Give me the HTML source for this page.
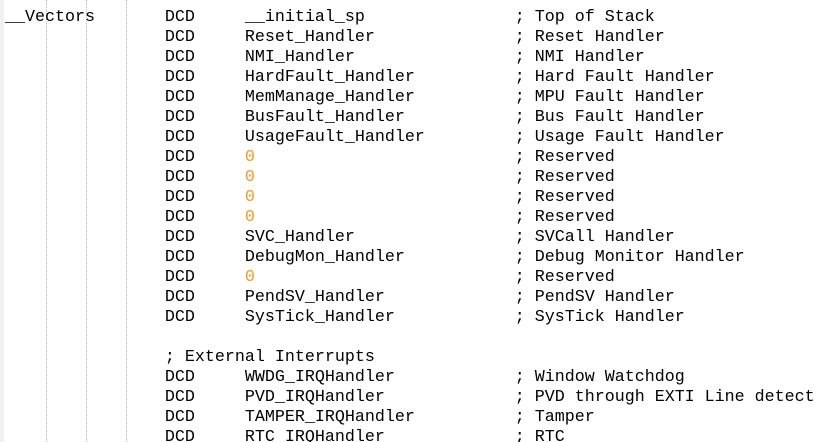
<!DOCTYPE html>
<html><head><meta charset="utf-8"><style>
html,body{margin:0;padding:0;background:#fff;width:834px;height:442px;overflow:hidden;position:relative}
.l{position:absolute;left:5px;font-family:"Liberation Mono","Courier New",monospace;font-size:16.67px;line-height:20px;white-space:pre;color:#000}
.z{color:#f39a30}
.v{position:absolute;top:0;height:442px;width:0;border-left:1px dotted #b8b8b8}
.strip{position:absolute;left:0;top:0;width:4px;height:442px;background:#f0f0f0}
</style></head><body>
<div class="strip"></div>
<div class="v" style="left:46px"></div>
<div class="v" style="left:86px"></div>
<div class="v" style="left:126px"></div>
<div class="l" style="top:8px">__Vectors       DCD     __initial_sp               ; Top of Stack</div>
<div class="l" style="top:28px">                DCD     Reset_Handler              ; Reset Handler</div>
<div class="l" style="top:48px">                DCD     NMI_Handler                ; NMI Handler</div>
<div class="l" style="top:68px">                DCD     HardFault_Handler          ; Hard Fault Handler</div>
<div class="l" style="top:88px">                DCD     MemManage_Handler          ; MPU Fault Handler</div>
<div class="l" style="top:108px">                DCD     BusFault_Handler           ; Bus Fault Handler</div>
<div class="l" style="top:128px">                DCD     UsageFault_Handler         ; Usage Fault Handler</div>
<div class="l" style="top:148px">                DCD     <span class="z">0</span>                          ; Reserved</div>
<div class="l" style="top:168px">                DCD     <span class="z">0</span>                          ; Reserved</div>
<div class="l" style="top:188px">                DCD     <span class="z">0</span>                          ; Reserved</div>
<div class="l" style="top:208px">                DCD     <span class="z">0</span>                          ; Reserved</div>
<div class="l" style="top:228px">                DCD     SVC_Handler                ; SVCall Handler</div>
<div class="l" style="top:248px">                DCD     DebugMon_Handler           ; Debug Monitor Handler</div>
<div class="l" style="top:268px">                DCD     <span class="z">0</span>                          ; Reserved</div>
<div class="l" style="top:288px">                DCD     PendSV_Handler             ; PendSV Handler</div>
<div class="l" style="top:308px">                DCD     SysTick_Handler            ; SysTick Handler</div>
<div class="l" style="top:348px">                ; External Interrupts</div>
<div class="l" style="top:368px">                DCD     WWDG_IRQHandler            ; Window Watchdog</div>
<div class="l" style="top:388px">                DCD     PVD_IRQHandler             ; PVD through EXTI Line detect</div>
<div class="l" style="top:408px">                DCD     TAMPER_IRQHandler          ; Tamper</div>
<div class="l" style="top:428px">                DCD     RTC_IRQHandler             ; RTC</div>
</body></html>
